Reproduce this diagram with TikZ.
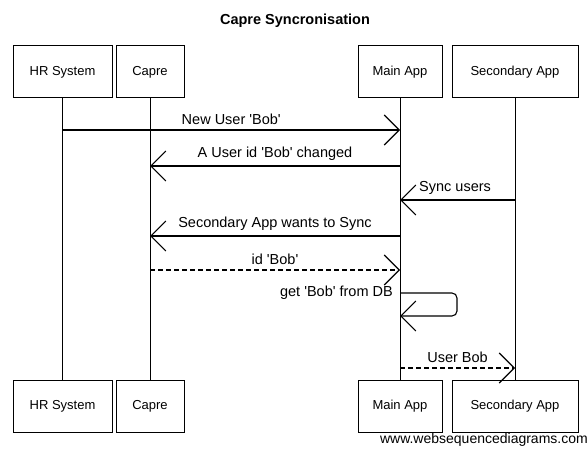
\documentclass[tikz,border=0pt]{standalone}
\usepackage{fontspec}
\setmainfont{Liberation Sans}
\usetikzlibrary{arrows.meta,calc}
\newcommand{\q}{\textquotesingle}
\begin{document}
\begin{tikzpicture}[x=1pt,y=-1pt,
  actor/.style={draw, line width=1pt, minimum height=52pt, inner sep=0pt, font=\fontsize{13}{15}\selectfont},
  life/.style={line width=0.8pt},
  msg/.style={line width=1.1pt, -{Straight Barb[length=15pt,width=30pt,line width=1.1pt]}},
  reply/.style={msg, dashed, dash pattern=on 5pt off 3pt},
  lbl/.style={font=\fontsize{14.5}{16}\selectfont, inner sep=1pt}]
\useasboundingbox (0,0) rectangle (588,449);
\node[font=\bfseries\fontsize{14.5}{16}\selectfont] (title) at (295,21) {Capre Syncronisation};
% top actors
\node[actor, minimum width=99pt] (hrT) at (62.5,72) {HR System};
\node[actor, minimum width=68pt] (capT) at (150,72) {Capre};
\node[actor, minimum width=84pt] (mainT) at (400,72) {Main App};
\node[actor, minimum width=126pt] (secT) at (515,72) {Secondary App};
% bottom actors
\node[actor, minimum width=99pt] (hrB) at (62.5,406) {HR System};
\node[actor, minimum width=68pt] (capB) at (150,406) {Capre};
\node[actor, minimum width=84pt] (mainB) at (400,406) {Main App};
\node[actor, minimum width=126pt] (secB) at (515,406) {Secondary App};
% lifelines
\draw[life] (hrT.south) -- (hrB.north);
\draw[life] (capT.south) -- (capB.north);
\draw[life] (mainT.south) -- (mainB.north);
\draw[life] (secT.south) -- (secB.north);
% message anchor points
\coordinate (hr1) at (hrT.south |- 0,130);
\coordinate (main1) at (mainT.south |- 0,130);
\coordinate (main2) at (mainT.south |- 0,166);
\coordinate (cap2) at (capT.south |- 0,166);
\coordinate (sec3) at (secT.south |- 0,200);
\coordinate (main3) at (mainT.south |- 0,200);
\coordinate (main4) at (mainT.south |- 0,236);
\coordinate (cap4) at (capT.south |- 0,236);
\coordinate (cap5) at (capT.south |- 0,270);
\coordinate (main5) at (mainT.south |- 0,270);
\coordinate (main6a) at (mainT.south |- 0,293);
\coordinate (main6b) at (mainT.south |- 0,316);
\coordinate (loopA) at (457,293);
\coordinate (loopB) at (457,316);
\coordinate (main7) at (mainT.south |- 0,368);
\coordinate (sec7) at (secT.south |- 0,368);
% messages
\draw[msg] (hr1) -- node[lbl, above=4pt] (l1) {New User \q Bob\q} (main1);
\draw[msg] (main2) -- node[lbl, above=4pt] (l2) {A User id \q Bob\q\ changed} (cap2);
\draw[msg] (sec3) -- (main3);
\node[lbl, anchor=south west] (l3) at ($(main3)+(18,-4)$) {Sync users};
\draw[msg] (main4) -- node[lbl, above=4pt] (l4) {Secondary App wants to Sync} (cap4);
\draw[reply] (cap5) -- node[lbl, above=4pt] (l5) {id \q Bob\q} (main5);
\draw[msg, rounded corners=5pt] (main6a) -- (loopA) -- (loopB) -- (main6b);
\node[lbl, anchor=east] (l6) at ($(main6a)+(-6,0)$) {get \q Bob\q\ from DB};
\draw[reply] (main7) -- node[lbl, above=4pt] (l7) {User Bob} (sec7);
% footer
\node[anchor=south east, inner sep=0pt, font=\fontsize{14}{16}\selectfont] (footer) at (588,447) {www.websequencediagrams.com};
\end{tikzpicture}
\end{document}
